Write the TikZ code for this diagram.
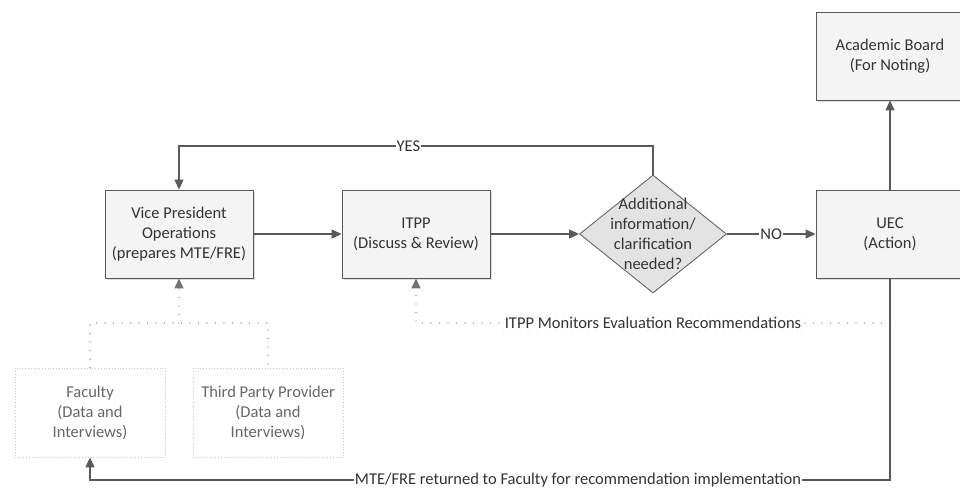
\documentclass[tikz,border=0pt]{standalone}
\usepackage{fontspec}
\setmainfont{Carlito}
\usetikzlibrary{shapes.geometric,arrows.meta,shadows}
\begin{document}
\begin{tikzpicture}[x=1pt,y=-1pt,
  txt/.style={font=\fontsize{16.5}{20}\selectfont, text=black!80},
  box/.style={txt, draw=black!65, line width=0.9pt, fill=gray!9, minimum width=148pt, minimum height=88pt, align=center, inner sep=0pt,
    drop shadow={shadow xshift=2pt, shadow yshift=-2pt, fill=black!22, opacity=0.6}},
  srcbox/.style={txt, text=black!60, draw=gray!45, dotted, line width=0.8pt, minimum width=150pt, minimum height=89pt, align=center, inner sep=0pt},
  dec/.style={shape=diamond, draw=black!60, line width=0.9pt, fill=gray!22, minimum width=147pt, minimum height=118pt, inner sep=0pt},
  lbl/.style={txt, fill=white, inner sep=1pt},
  mlbl/.style={txt, fill=white, draw=gray!15, inner sep=1.5pt},
  conn/.style={draw=black!65, line width=1.1pt},
  arr/.style={conn, -{Triangle[length=10pt,width=9pt]}},
  dotl/.style={draw=black!55, line width=1.3pt, dash pattern=on 0pt off 8.5pt, line cap=round},
  dotarr/.style={dotl, -{Triangle[length=10pt,width=9pt]}}
]
\clip (0,0) rectangle (960,488);
\fill[white] (0,0) rectangle (960,488);

\node[box] (ab) at (890,56) {Academic Board\\(For Noting)};
\node[box] (vp) at (179,234) {Vice President\\Operations\\(prepares MTE/FRE)};
\node[box] (itpp) at (416,234) {ITPP\\(Discuss \& Review)};
\node[box] (uec) at (890,234) {UEC\\(Action)};
\node[dec] (dec) at (653,234) {};
\node[txt, align=center, inner sep=0pt] (dtext) at (653,234) {Additional\\information/\\clarification\\needed?};

\node[srcbox] (fac) at (90,412.5) {Faculty\\(Data and\\Interviews)};
\node[srcbox] (tp) at (268,412.5) {Third Party Provider\\(Data and\\Interviews)};

\coordinate (ytop) at (0,146);
\coordinate (mon) at (0,323);
\coordinate (ret) at (0,480);
\coordinate (tj) at (179,323);

% main flow
\draw[arr] (vp) -- (itpp);
\draw[arr] (itpp) -- (dec);
\draw[arr] (dec) -- node[lbl]{NO} (uec);
\draw[arr] (uec) -- (ab);
\draw[arr] (dec.north) -- (dec.north |- ytop) -| node[lbl, pos=0.258]{YES} (vp.north);

% return to faculty
\draw[arr] (uec.south) -- (uec.south |- ret) -| node[lbl, pos=0.195]{MTE/FRE returned to Faculty for recommendation implementation} (fac.south);

% monitoring
\draw[dotarr] (uec.south |- mon) -| node[mlbl, pos=0.25]{ITPP Monitors Evaluation Recommendations} (itpp.south);

% sources
\draw[dotl] (fac.north) -- (fac.north |- mon) -| (tp.north);
\draw[dotarr] (tj) -- (vp.south);
\end{tikzpicture}
\end{document}
